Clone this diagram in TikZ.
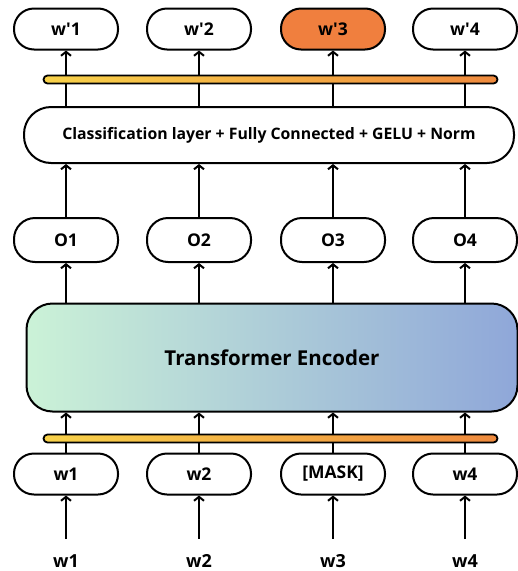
\documentclass[tikz,border=0pt]{standalone}
\usepackage{fontspec}
\setmainfont{Open Sans}
\usetikzlibrary{arrows.meta}

\definecolor{maskorange}{HTML}{F07F3E}
\definecolor{baryellow}{HTML}{F8D24A}
\definecolor{barorange}{HTML}{EF8A3E}
\definecolor{encgreen}{HTML}{CBF2D7}
\definecolor{enccyan}{HTML}{B8E2E6}
\definecolor{encblue}{HTML}{8FA7D9}

\begin{document}
\begin{tikzpicture}[x=1pt,y=-1pt,
    tok/.style={draw, line width=2pt, fill=white, rounded corners=20pt,
        minimum width=104pt, minimum height=41pt,
        font=\fontsize{17.5}{19}\selectfont\bfseries},
    up/.style={line width=2pt, -{Straight Barb[length=4pt,width=10pt,line width=2pt]}},
    bar/.style={draw, line width=1.8pt, rounded corners=4pt, inner sep=0pt,
        minimum width=454pt, minimum height=8pt,
        left color=baryellow, right color=barorange},
]

    % constants
    \def\xa{66}
    \def\xb{199}
    \def\xc{333}
    \def\xd{465}
    \def\q{\textquotesingle}

    \useasboundingbox (0,0) rectangle (518,571);

    % output tokens
    \node [tok] (wp1) at (\xa,29) {w\q1};
    \node [tok] (wp2) at (\xb,29) {w\q2};
    \node [tok, fill=maskorange] (wp3) at (\xc,29) {w\q3};
    \node [tok] (wp4) at (\xd,29) {w\q4};

    % classification head
    \node [draw, line width=2pt, rounded corners=27pt, minimum width=490pt, minimum height=56pt,
        font=\fontsize{15.8}{18}\selectfont\bfseries] (cls) at (269,135)
        {Classification layer + Fully Connected + GELU + Norm};

    \draw [up] (cls.north -| wp1) -- (wp1);
    \draw [up] (cls.north -| wp2) -- (wp2);
    \draw [up] (cls.north -| wp3) -- (wp3);
    \draw [up] (cls.north -| wp4) -- (wp4);
    \node [bar] (bartop) at (270.5,79.5) {};

    % encoder outputs
    \node [tok, minimum height=44pt, rounded corners=21pt] (o1) at (\xa,240) {O1};
    \node [tok, minimum height=44pt, rounded corners=21pt] (o2) at (\xb,240) {O2};
    \node [tok, minimum height=44pt, rounded corners=21pt] (o3) at (\xc,240) {O3};
    \node [tok, minimum height=44pt, rounded corners=21pt] (o4) at (\xd,240) {O4};

    \draw [up] (o1) -- (o1 |- cls.south);
    \draw [up] (o2) -- (o2 |- cls.south);
    \draw [up] (o3) -- (o3 |- cls.south);
    \draw [up] (o4) -- (o4 |- cls.south);

    % encoder
    \node [draw, line width=2pt, rounded corners=26pt, minimum width=491pt, minimum height=108pt,
        left color=encgreen, middle color=enccyan, right color=encblue,
        font=\fontsize{20.5}{23}\selectfont\bfseries] (enc) at (272,357.5) {Transformer Encoder};

    \draw [up] (enc.north -| o1) -- (o1);
    \draw [up] (enc.north -| o2) -- (o2);
    \draw [up] (enc.north -| o3) -- (o3);
    \draw [up] (enc.north -| o4) -- (o4);

    % input tokens
    \node [tok] (in1) at (\xa,474) {w1};
    \node [tok] (in2) at (\xb,474) {w2};
    \node [tok] (in3) at (\xc,474) {[MASK]};
    \node [tok] (in4) at (\xd,474) {w4};

    \draw [up] (in1) -- (in1 |- enc.south);
    \draw [up] (in2) -- (in2 |- enc.south);
    \draw [up] (in3) -- (in3 |- enc.south);
    \draw [up] (in4) -- (in4 |- enc.south);
    \node [bar] (barbot) at (270.5,438.5) {};

    % words
    \node [font=\fontsize{18}{20}\selectfont\bfseries] (lab1) at (\xa,561) {w1};
    \node [font=\fontsize{18}{20}\selectfont\bfseries] (lab2) at (\xb,561) {w2};
    \node [font=\fontsize{18}{20}\selectfont\bfseries] (lab3) at (\xc,561) {w3};
    \node [font=\fontsize{18}{20}\selectfont\bfseries] (lab4) at (\xd,561) {w4};

    \draw [up, shorten <=12pt] (lab1.north) -- (in1);
    \draw [up, shorten <=12pt] (lab2.north) -- (in2);
    \draw [up, shorten <=12pt] (lab3.north) -- (in3);
    \draw [up, shorten <=12pt] (lab4.north) -- (in4);

\end{tikzpicture}
\end{document}
